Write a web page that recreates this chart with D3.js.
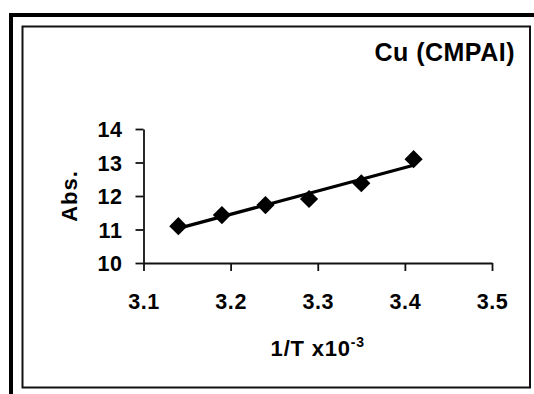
<!DOCTYPE html>
<html>
<head>
<meta charset="utf-8">
<script src="https://cdn.jsdelivr.net/npm/d3@7"></script>
<style>
  html, body { margin: 0; padding: 0; background: #fff; }
  svg { display: block; }
  text { font-family: "Liberation Sans", Arial, sans-serif; font-weight: bold; fill: #000; }
</style>
</head>
<body>
<svg id="chart" width="534" height="394"></svg>
<script>
// Reciprocal temperature (x10^-3) and measured absorbance for Cu (CMPAI)
const invT = [3.14, 3.19, 3.24, 3.29, 3.35, 3.41];
const absorbance = [11.10, 11.43, 11.73, 11.91, 12.38, 13.10];
const xTicks = [3.1, 3.2, 3.3, 3.4, 3.5];
const yTicks = [10, 11, 12, 13, 14];
const chartTitle = "Cu (CMPAI)";
const yTitle = "Abs.";

const svg = d3.select("#chart");

// Outer frame (top and left edges) and inner chart box
svg.append("path")
  .attr("d", "M11,394V15H534")
  .attr("fill", "none").attr("stroke", "#000").attr("stroke-width", 4);
svg.append("rect")
  .attr("x", 22.5).attr("y", 26.5).attr("width", 507.5).attr("height", 361)
  .attr("fill", "none").attr("stroke", "#111").attr("stroke-width", 2);

const x = d3.scaleLinear().domain([3.1, 3.5]).range([143.5, 492]);
const y = d3.scaleLinear().domain([10, 14]).range([263, 129]);

const xAxis = svg.append("g")
  .attr("transform", `translate(0,${y(10)})`)
  .call(d3.axisBottom(x).tickValues(xTicks).tickFormat(d3.format(".1f"))
    .tickSizeInner(8).tickSizeOuter(0).tickPadding(23));
const yAxis = svg.append("g")
  .attr("transform", `translate(${x(3.1)},0)`)
  .call(d3.axisLeft(y).tickValues(yTicks).tickFormat(d3.format("d"))
    .tickSizeInner(8).tickSizeOuter(0).tickPadding(13));

[xAxis, yAxis].forEach(g => {
  g.selectAll("path.domain, line").attr("stroke", "#111").attr("stroke-width", 1.8);
  g.selectAll("text").style("font-size", "21.5px").style("letter-spacing", "0.6px")
    .style("font-family", "'Liberation Sans', Arial, sans-serif").style("font-weight", "bold")
    .attr("fill", "#000");
});
yAxis.selectAll("text").attr("dy", "0.36em");

// Least-squares trend line across the measured range
const mx = d3.mean(invT), my = d3.mean(absorbance);
const slope = d3.sum(invT, (v, i) => (v - mx) * (absorbance[i] - my)) /
              d3.sum(invT, v => (v - mx) * (v - mx));
const fit = v => my + slope * (v - mx);
const [x0, x1] = d3.extent(invT);
svg.append("path")
  .datum([x0, x1])
  .attr("d", d3.line().x(d => x(d)).y(d => y(fit(d))))
  .attr("fill", "none").attr("stroke", "#000").attr("stroke-width", 3.2);

// Diamond markers
const diamond = d3.symbol().type(d3.symbolSquare).size(165);
svg.append("g").selectAll("path")
  .data(invT.map((v, i) => [v, absorbance[i]]))
  .join("path")
  .attr("d", diamond)
  .attr("transform", d => `translate(${x(d[0])},${y(d[1])}) rotate(45)`)
  .attr("fill", "#000");

// Titles
svg.append("text")
  .attr("x", 515).attr("y", 61).attr("text-anchor", "end")
  .style("font-size", "25px").style("letter-spacing", "0.5px").text(chartTitle);

svg.append("text")
  .attr("transform", `translate(77,${(y(10) + y(14)) / 2}) rotate(-90)`)
  .attr("text-anchor", "middle").style("font-size", "22px").style("letter-spacing", "1px")
  .text(yTitle);

const xt = svg.append("text")
  .attr("x", (x(3.1) + x(3.5)) / 2).attr("y", 356).attr("text-anchor", "middle")
  .style("font-size", "22px").style("letter-spacing", "0.8px");
xt.append("tspan").text("1/T x10");
xt.append("tspan").attr("dy", -9).style("font-size", "14px").text("-3");
</script>
</body>
</html>
